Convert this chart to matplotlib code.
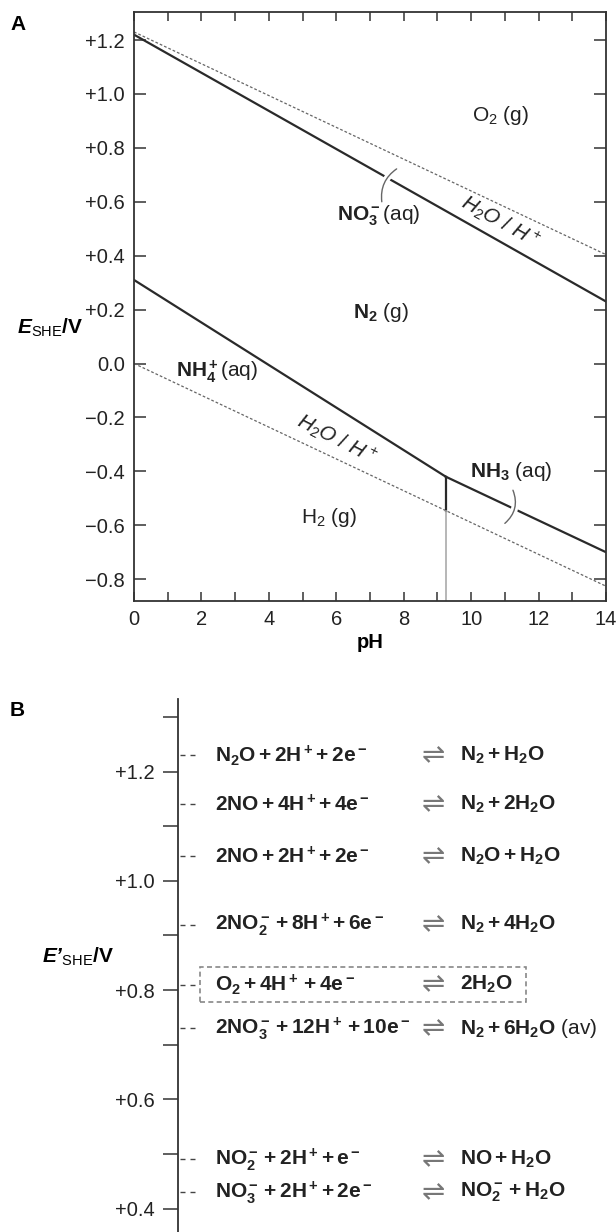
import matplotlib
matplotlib.use("Agg")
import matplotlib.pyplot as plt
import matplotlib.patheffects as pe
from matplotlib.patches import Rectangle
from matplotlib.ticker import FuncFormatter, MultipleLocator, FixedLocator

plt.rcParams['font.family'] = ['Liberation Sans', 'DejaVu Sans']
plt.rcParams['mathtext.fontset'] = 'custom'
plt.rcParams['mathtext.rm'] = 'Liberation Sans'
plt.rcParams['mathtext.sf'] = 'Liberation Sans'
plt.rcParams['mathtext.it'] = 'Liberation Sans:italic'
plt.rcParams['mathtext.bf'] = 'Liberation Sans:bold'
plt.rcParams['mathtext.bfit'] = 'Liberation Sans:bold:italic'

# panel A - Pourbaix diagram of nitrogen (pH, E vs SHE)
ph_ends = [0, 14]
o2_h2o = [1.23, 0.404]
h2o_h2 = [0.0, -0.826]
no3_n2 = [1.22, 0.23]
nh4_ph = [0, 9.25]
n2_nh4 = [0.31, -0.42]
nh3_ph = [9.25, 14]
n2_nh3 = [-0.42, -0.70]
pka_ph = 9.25
pka_top = -0.42
pka_mid = -0.546

region_labels = [r'$\mathrm{O_2\ (g)}$', r'$\mathbf{NO_3^-}\!\!\ \mathrm{(aq)}$',
                 r'$\mathbf{N_2}\ \mathrm{(g)}$', r'$\mathbf{NH_4^+}\!\!\ \mathrm{(aq)}$',
                 r'$\mathrm{H_2\ (g)}$', r'$\mathbf{NH_3}\ \mathrm{(aq)}$']
region_ph = [10.86, 7.25, 7.33, 2.46, 5.77, 11.2]
region_e = [0.92, 0.548, 0.19, -0.03, -0.57, -0.40]

# panel B - redox tower at pH 7
potentials = [1.23, 1.14, 1.045, 0.92, 0.81, 0.73, 0.49, 0.43]
reactants = [r'$\mathbf{N_2O + 2H^+\!+ 2e^-}$',
             r'$\mathbf{2NO + 4H^+\!+ 4e^-}$',
             r'$\mathbf{2NO + 2H^+\!+ 2e^-}$',
             r'$\mathbf{2NO_2^- + 8H^+\!+ 6e^-}$',
             r'$\mathbf{O_2 + 4H^+ + 4e^-}$',
             r'$\mathbf{2NO_3^- + 12H^+ + 10e^-}$',
             r'$\mathbf{NO_2^- + 2H^+\!+ e^-}$',
             r'$\mathbf{NO_3^- + 2H^+\!+ 2e^-}$']
products = [r'$\mathbf{N_2 + H_2O}$',
            r'$\mathbf{N_2 + 2H_2O}$',
            r'$\mathbf{N_2O + H_2O}$',
            r'$\mathbf{N_2 + 4H_2O}$',
            r'$\mathbf{2H_2O}$',
            r'$\mathbf{N_2 + 6H_2O}\ \mathrm{(av)}$',
            r'$\mathbf{NO + H_2O}$',
            r'$\mathbf{NO_2^- + H_2O}$']
boxed = 4

W, H = 616, 1232
fig = plt.figure(figsize=(W / 100, H / 100), dpi=100)
dark = '#2a2a2a'


def signed(v, pos=None):
    if abs(v) < 1e-9:
        return '0.0'
    return ('+' if v > 0 else '\u2212') + f'{abs(v):.1f}'


# ---- panel A ----
ax = fig.add_axes([134 / W, 1 - 601 / H, 472 / W, 589 / H])
ax.plot(ph_ends, o2_h2o, color='#666', lw=0.9, ls=(0, (2.2, 1.6)))
ax.plot(ph_ends, h2o_h2, color='#666', lw=0.9, ls=(0, (2.2, 1.6)))
ax.plot(ph_ends, no3_n2, color=dark, lw=1.6)
ax.plot(nh4_ph, n2_nh4, color=dark, lw=1.6)
ax.plot(nh3_ph, n2_nh3, color=dark, lw=1.6)
ax.plot([pka_ph, pka_ph], [pka_top, pka_mid], color=dark, lw=1.6)
ax.plot([pka_ph, pka_ph], [pka_mid, -0.881], color='#aaa', lw=1.2)

ax.set_xlim(0, 14)
ax.set_ylim(-0.881, 1.304)
ax.xaxis.set_major_locator(MultipleLocator(2))
ax.xaxis.set_minor_locator(MultipleLocator(1))
ax.yaxis.set_major_locator(MultipleLocator(0.2))
ax.yaxis.set_major_formatter(FuncFormatter(signed))
ax.tick_params(which='both', direction='in', top=True, right=True,
               color='#333', width=1.1, labelsize=14.5, labelcolor='#222')
ax.tick_params(axis='x', which='both', length=6.5, pad=6.5)
ax.tick_params(axis='y', which='both', length=8.6, pad=6.5)
for s in ax.spines.values():
    s.set_color('#333')
    s.set_linewidth(1.3)
ax.set_xlabel('pH', fontsize=14.5, fontweight='bold', labelpad=3)

for txt, x, y in zip(region_labels, region_ph, region_e):
    ax.text(x, y, txt, fontsize=15, ha='center', va='center', color='#222')

ax.text(10.86, 0.526, r'$H_2O\ /\ H^+$', fontsize=15, rotation=-29,
        ha='center', va='center', color='#222', rotation_mode='anchor')
ax.text(6.0, -0.28, r'$H_2O\ /\ H^+$', fontsize=15, rotation=-27,
        ha='center', va='center', color='#222', rotation_mode='anchor')

halo = [pe.withStroke(linewidth=5, foreground='white')]
ax.annotate('', xy=(7.79, 0.722), xytext=(7.35, 0.60), zorder=4,
            arrowprops=dict(arrowstyle='-', connectionstyle='arc3,rad=-0.3',
                            color='#666', lw=1.0, shrinkA=0, shrinkB=0,
                            path_effects=halo))
ax.annotate('', xy=(11.24, -0.47), xytext=(11.0, -0.593), zorder=4,
            arrowprops=dict(arrowstyle='-', connectionstyle='arc3,rad=0.35',
                            color='#666', lw=1.0, shrinkA=0, shrinkB=0,
                            path_effects=halo))

fig.text(10 / W, 1 - 25 / H, 'A', fontsize=15, fontweight='bold', va='center')
fig.text(17 / W, 1 - 328 / H, r'$\mathbfit{E}_{\mathrm{SHE}}\mathbf{/V}$',
         fontsize=15, va='center', ha='left')

# ---- panel B ----
bx = fig.add_axes([178 / W, 0, 438 / W, 533 / H])
bx.set_xlim(0, 438)
bx.set_ylim(0.357, 1.333)
for k in ['top', 'right', 'bottom']:
    bx.spines[k].set_visible(False)
bx.spines['left'].set_color('#333')
bx.spines['left'].set_linewidth(1.3)
bx.set_xticks([])
bx.yaxis.set_major_locator(FixedLocator([0.4, 0.6, 0.8, 1.0, 1.2]))
bx.yaxis.set_minor_locator(FixedLocator([0.5, 0.7, 0.9, 1.1, 1.3]))
bx.yaxis.set_major_formatter(FuncFormatter(signed))
bx.tick_params(axis='y', which='both', direction='out', length=10.8, width=1.1,
               color='#333', pad=5.8, labelsize=14.5, labelcolor='#222')

for i, (p, r, q) in enumerate(zip(potentials, reactants, products)):
    bx.plot([2, 17], [p, p], color='#444', lw=1.0, ls=(0, (3.6, 3.6)),
            clip_on=False)
    bx.text(37, p, r, fontsize=15, ha='left', va='center', color='#222')
    bx.text(255, p, '\u21cc', fontsize=20, ha='center', va='center',
            color='#777', family='DejaVu Sans')
    bx.text(282, p, q, fontsize=15, ha='left', va='center', color='#222')

pb = potentials[boxed]
bx.add_patch(Rectangle((22, pb - 0.032), 326, 0.064, fill=False,
                       ec='#888', lw=1.2, ls=(0, (3, 2))))

fig.text(10 / W, 1 - 710 / H, 'B', fontsize=15, fontweight='bold', va='center')
fig.text(42 / W, 1 - 957 / H, '$\\mathbfit{E\u2019}_{\\mathrm{SHE}}\\mathbf{/V}$',
         fontsize=15, va='center', ha='left')

fig.savefig('out.png', dpi=100)
